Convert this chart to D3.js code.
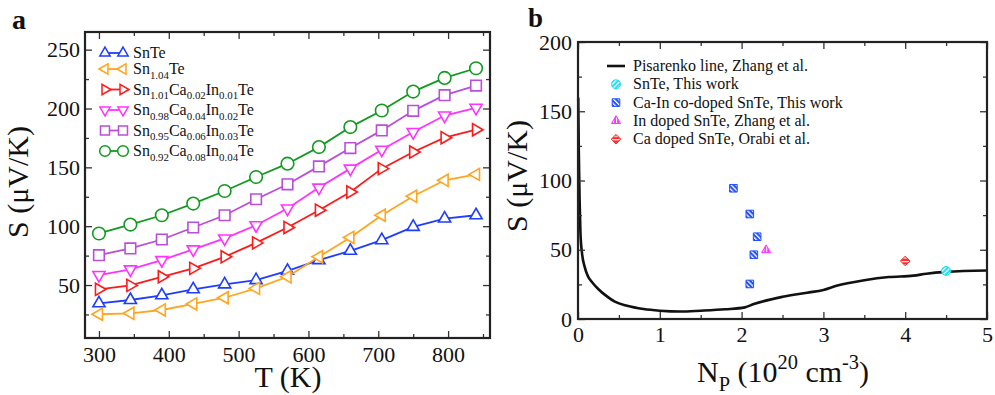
<!DOCTYPE html>
<html>
<head>
<meta charset="utf-8">
<script src="https://cdn.jsdelivr.net/npm/d3@7"></script>
<style>
  html, body { margin: 0; padding: 0; background: #fff; }
  svg { display: block; font-family: "Liberation Serif", "Times New Roman", serif; }
</style>
</head>
<body>
<svg id="chart" width="995" height="395"></svg>
<script>
// ---------- Panel a: Seebeck coefficient vs temperature ----------
const temperatureK = [300, 345, 390, 435, 480, 525, 570, 615, 660, 705, 750, 795, 840];
const seebeckSnTe      = [34.5, 37.3, 41.3, 46.4, 50.6, 54.2, 62.1, 71.2, 79.1, 88.1, 99.4, 106.5, 109.3];
const seebeckSn104     = [25.2, 26.0, 28.8, 33.9, 39.2, 47.2, 57.0, 74.0, 90.4, 109.3, 125.4, 139.0, 144.0];
const seebeckCaIn0201  = [46.4, 49.7, 57.0, 64.2, 74.0, 85.8, 98.9, 113.6, 129.0, 148.9, 163.0, 175.2, 182.0];
const seebeckCaIn0402  = [58.5, 63.3, 71.2, 80.3, 89.6, 100.8, 115.0, 132.8, 148.9, 165.0, 180.0, 194.0, 200.6];
const seebeckCaIn0603  = [75.4, 81.1, 88.7, 98.9, 109.3, 122.9, 135.6, 150.8, 166.4, 181.4, 198.0, 211.3, 219.5];
const seebeckCaIn0804  = [93.8, 101.4, 109.3, 119.2, 129.9, 141.8, 153.1, 167.2, 184.2, 198.3, 214.4, 226.0, 234.2];
const seriesNamesA = [
  "SnTe",
  "Sn_{1.04}Te",
  "Sn_{1.01}Ca_{0.02}In_{0.01}Te",
  "Sn_{0.98}Ca_{0.04}In_{0.02}Te",
  "Sn_{0.95}Ca_{0.06}In_{0.03}Te",
  "Sn_{0.92}Ca_{0.08}In_{0.04}Te"
];
const xTicksA = [300, 400, 500, 600, 700, 800];
const yTicksA = [50, 100, 150, 200, 250];

// ---------- Panel b: Pisarenko plot ----------
const pisarenkoN = [0.003, 0.01, 0.02, 0.03, 0.05, 0.08, 0.12, 0.18, 0.25, 0.35, 0.45, 0.6, 0.8, 1.0, 1.25, 1.5, 1.8, 2.04, 2.15, 2.5, 2.8, 3.0, 3.16, 3.5, 3.8, 4.1, 4.26, 4.5, 5.0];
const pisarenkoS = [160, 120, 85, 62, 47, 38, 31, 26, 21.5, 16.5, 12.5, 9.5, 7.2, 6.0, 5.4, 6.0, 7.0, 8.4, 10.8, 16.0, 19.0, 21.0, 24.0, 28.0, 30.3, 31.3, 32.7, 34.0, 35.0];
const snteThisWorkN = [4.5];
const snteThisWorkS = [34.7];
const coDopedN = [1.9, 2.1, 2.19, 2.15, 2.1];
const coDopedS = [94.4, 75.8, 59.4, 46.4, 25.3];
const inDopedN = [2.3];
const inDopedS = [49.8];
const caDopedN = [4.0];
const caDopedS = [41.9];
const legendNamesB = [
  "Pisarenko line, Zhang et al.",
  "SnTe, This work",
  "Ca-In co-doped SnTe, This work",
  "In doped SnTe, Zhang et al.",
  "Ca doped SnTe, Orabi et al."
];
const xTicksB = [0, 1, 2, 3, 4, 5];
const yTicksB = [0, 50, 100, 150, 200];

const svg = d3.select("#chart");
const FONT = '"Liberation Serif", "Times New Roman", serif';

// Writes "A_{sub}B^{sup}" markup into a text element as tspans.
function richText(textSel, markup, size) {
  const parts = [];
  const re = /([_^])\{([^}]*)\}|([^_^]+)/g;
  let m;
  while ((m = re.exec(markup)) !== null) {
    if (m[3] !== undefined) parts.push({ t: m[3], k: 0 });
    else parts.push({ t: m[2], k: m[1] === "_" ? 1 : -1 });
  }
  let shift = 0;
  parts.forEach(p => {
    const target = p.k === 1 ? size * 0.3 : p.k === -1 ? -size * 0.42 : 0;
    textSel.append("tspan")
      .attr("dy", target - shift)
      .attr("font-size", p.k === 0 ? size : size * 0.68)
      .text(p.t);
    shift = target;
  });
}

// Marker outlines centred at the origin.
function markerPath(shape, s) {
  const tri = (rot) => {
    const pts = [[0, -s], [s * 0.866, s * 0.5], [-s * 0.866, s * 0.5]].map(([x, y]) => {
      const a = rot * Math.PI / 180;
      return [x * Math.cos(a) - y * Math.sin(a), x * Math.sin(a) + y * Math.cos(a)];
    });
    return "M" + pts.map(p => p[0].toFixed(2) + "," + p[1].toFixed(2)).join("L") + "Z";
  };
  switch (shape) {
    case "up": return tri(0);
    case "down": return tri(180);
    case "left": return tri(-90);
    case "right": return tri(90);
    case "square": return `M${-s},${-s}H${s}V${s}H${-s}Z`;
    case "diamond": return `M0,${-s}L${s},0L0,${s}L${-s},0Z`;
    case "circle": return d3.arc()({ innerRadius: 0, outerRadius: s, startAngle: 0, endAngle: 2 * Math.PI });
  }
}

function drawFrame(g, x, y, xMajor, xMinor, yMajor, yMinor, xPad, yPad) {
  const [x0, x1] = x.range();
  const [y0, y1] = y.range();
  const h = y0 - y1, w = x1 - x0;
  const axes = g.append("g").attr("class", "axes");
  const mk = (gen, tx, ty) => axes.append("g").attr("transform", `translate(${tx},${ty})`).call(gen);
  mk(d3.axisBottom(x).tickValues(xMajor).tickSize(-7).tickPadding(xPad).tickFormat(d3.format("d")), 0, y0);
  mk(d3.axisBottom(x).tickValues(xMinor).tickSize(-4).tickFormat(""), 0, y0);
  mk(d3.axisTop(x).tickValues(xMajor).tickSize(-7).tickFormat(""), 0, y1);
  mk(d3.axisTop(x).tickValues(xMinor).tickSize(-4).tickFormat(""), 0, y1);
  mk(d3.axisLeft(y).tickValues(yMajor).tickSize(-7).tickPadding(yPad).tickFormat(d3.format("d")), x0, 0);
  mk(d3.axisLeft(y).tickValues(yMinor).tickSize(-4).tickFormat(""), x0, 0);
  mk(d3.axisRight(y).tickValues(yMajor).tickSize(-7).tickFormat(""), x1, 0);
  mk(d3.axisRight(y).tickValues(yMinor).tickSize(-4).tickFormat(""), x1, 0);
  axes.selectAll(".domain").remove();
  axes.selectAll(".tick line").attr("stroke", "#333").attr("stroke-width", 1.3);
  axes.selectAll(".tick text").attr("font-family", FONT).attr("font-size", 22).attr("fill", "#111");
  g.append("rect").attr("x", x0).attr("y", y1).attr("width", w).attr("height", h)
    .attr("fill", "none").attr("stroke", "#222").attr("stroke-width", 2.2);
}

// ======================= Panel a =======================
const gA = svg.append("g");
const xA = d3.scaleLinear().domain([280, 860]).range([85, 490]);
const yA = d3.scaleLinear().domain([5, 265]).range([338, 32]);

const seriesA = [
  { values: seebeckSnTe,     color: "#1f3dff", shape: "up",     size: 7 },
  { values: seebeckSn104,    color: "#ffa51f", shape: "left",   size: 7 },
  { values: seebeckCaIn0201, color: "#ff1a1a", shape: "right",  size: 7 },
  { values: seebeckCaIn0402, color: "#ff33ff", shape: "down",   size: 7 },
  { values: seebeckCaIn0603, color: "#b94fd9", shape: "square", size: 5.3 },
  { values: seebeckCaIn0804, color: "#12991f", shape: "circle", size: 6.3 }
];

const lineA = d3.line().x(d => xA(d[0])).y(d => yA(d[1]));
const plotA = gA.append("g");
seriesA.forEach(s => {
  const pts = temperatureK.map((t, i) => [t, s.values[i]]);
  plotA.append("path").attr("d", lineA(pts)).attr("fill", "none")
    .attr("stroke", s.color).attr("stroke-width", 1.8);
  plotA.selectAll(null).data(pts).enter().append("path")
    .attr("transform", d => `translate(${xA(d[0])},${yA(d[1])})`)
    .attr("d", markerPath(s.shape, s.size))
    .attr("fill", "#fff").attr("stroke", s.color).attr("stroke-width", 1.6);
});

drawFrame(gA, xA, yA, xTicksA, d3.range(350, 851, 100), yTicksA, d3.range(25, 251, 50), 8, 5);

// Legend a
const legA = gA.append("g");
seriesA.forEach((s, i) => {
  const yy = i === 0 ? 53 : 69 + (i - 1) * 20.5;
  legA.append("line").attr("x1", 105).attr("x2", 123).attr("y1", yy).attr("y2", yy)
    .attr("stroke", s.color).attr("stroke-width", 1.8);
  [105, 123].forEach(xx => legA.append("path")
    .attr("transform", `translate(${xx},${yy})`)
    .attr("d", markerPath(s.shape, s.size * 0.85))
    .attr("fill", "#fff").attr("stroke", s.color).attr("stroke-width", 1.5));
  const t = legA.append("text").attr("x", 133).attr("y", yy + 5)
    .attr("font-family", FONT).attr("fill", "#111");
  richText(t, seriesNamesA[i], 16);
});

// Axis titles a
gA.append("text").attr("x", 288).attr("y", 387).attr("text-anchor", "middle")
  .attr("font-family", FONT).attr("font-size", 30).attr("fill", "#111").text("T (K)");
gA.append("text").attr("transform", "translate(28,182) rotate(-90)").attr("text-anchor", "middle")
  .attr("font-family", FONT).attr("font-size", 30).attr("fill", "#111").text("S (μV/K)");
gA.append("text").attr("x", 12).attr("y", 29).attr("font-family", FONT)
  .attr("font-weight", "bold").attr("font-size", 28).attr("fill", "#111").text("a");

// ======================= Panel b =======================
const gB = svg.append("g");
const xB = d3.scaleLinear().domain([0, 5]).range([578, 987]);
const yB = d3.scaleLinear().domain([0, 200]).range([319, 42]);

// Striped fills for the scatter markers
const defs = svg.append("defs");
function stripes(id, color, angle, gap, white) {
  const p = defs.append("pattern").attr("id", id).attr("patternUnits", "userSpaceOnUse")
    .attr("width", gap).attr("height", gap).attr("patternTransform", `rotate(${angle})`);
  p.append("rect").attr("width", gap).attr("height", gap).attr("fill", color);
  p.append("rect").attr("width", white).attr("height", gap).attr("fill", "#fff");
}
stripes("hatchBlue", "#1f4fff", -45, 3.4, 1.3);
stripes("hatchCyan", "#19e0f5", 45, 3.4, 1.3);
stripes("hatchMagenta", "#ff33ff", 0, 3, 1.1);
stripes("hatchRed", "#ff2a2a", 90, 3.6, 1.2);

const pointSetsB = [
  { n: snteThisWorkN, s: snteThisWorkS, shape: "circle",  size: 4.5, fill: "url(#hatchCyan)",    stroke: "#19e0f5" },
  { n: coDopedN,      s: coDopedS,      shape: "square",  size: 3.8, fill: "url(#hatchBlue)",    stroke: "#1f4fff" },
  { n: inDopedN,      s: inDopedS,      shape: "up",      size: 5.2, fill: "url(#hatchMagenta)", stroke: "#ff33ff" },
  { n: caDopedN,      s: caDopedS,      shape: "diamond", size: 4.8, fill: "url(#hatchRed)",     stroke: "#ff2a2a" }
];

const lineB = d3.line().x(d => xB(d[0])).y(d => yB(d[1])).curve(d3.curveMonotoneX);
const plotB = gB.append("g");
plotB.append("path").attr("d", lineB(pisarenkoN.map((n, i) => [n, pisarenkoS[i]])))
  .attr("fill", "none").attr("stroke", "#111").attr("stroke-width", 2.6);

pointSetsB.forEach(ps => {
  plotB.selectAll(null).data(ps.n.map((n, i) => [n, ps.s[i]])).enter().append("path")
    .attr("transform", d => `translate(${xB(d[0])},${yB(d[1])})`)
    .attr("d", markerPath(ps.shape, ps.size))
    .attr("fill", ps.fill).attr("stroke", ps.stroke).attr("stroke-width", 1);
});

drawFrame(gB, xB, yB, xTicksB, d3.range(0.5, 5, 1), yTicksB, d3.range(25, 200, 50), 7, 6);

// Legend b
const legB = gB.append("g");
legendNamesB.forEach((name, i) => {
  const yy = 66 + i * 18.3;
  if (i === 0) {
    legB.append("line").attr("x1", 607).attr("x2", 625).attr("y1", yy).attr("y2", yy)
      .attr("stroke", "#111").attr("stroke-width", 2.6);
  } else {
    const ps = pointSetsB[i - 1];
    legB.append("path").attr("transform", `translate(616,${yy})`)
      .attr("d", markerPath(ps.shape, ps.size))
      .attr("fill", ps.fill).attr("stroke", ps.stroke).attr("stroke-width", 1);
  }
  legB.append("text").attr("x", 633).attr("y", yy + 5)
    .attr("font-family", FONT).attr("font-size", 16).attr("fill", "#111").text(name);
});

// Axis titles b
const xtB = gB.append("text").attr("x", 783).attr("y", 382).attr("text-anchor", "middle")
  .attr("font-family", FONT).attr("fill", "#111");
richText(xtB, "N_{P} (10^{20} cm^{-3})", 30);
gB.append("text").attr("transform", "translate(527,176) rotate(-90)").attr("text-anchor", "middle")
  .attr("font-family", FONT).attr("font-size", 30).attr("fill", "#111").text("S (μV/K)");
gB.append("text").attr("x", 528).attr("y", 27).attr("font-family", FONT)
  .attr("font-weight", "bold").attr("font-size", 27).attr("fill", "#111").text("b");
</script>
</body>
</html>
